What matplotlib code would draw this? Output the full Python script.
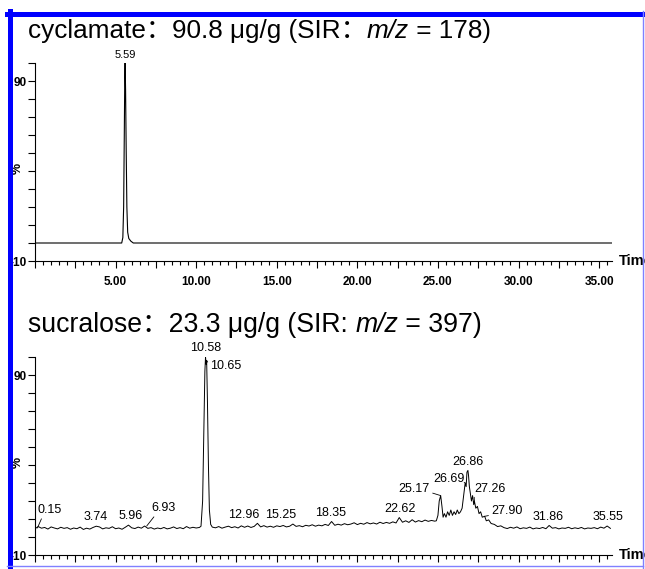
import numpy as np
import matplotlib
matplotlib.use("Agg")
import matplotlib.pyplot as plt
from matplotlib.ticker import MultipleLocator, FuncFormatter
from matplotlib.lines import Line2D
from matplotlib.patches import Rectangle

plt.rcParams['font.family'] = ['Liberation Sans', 'Noto Sans CJK SC', 'DejaVu Sans']

# cyclamate trace (time in min, relative intensity %)
cyc_time = [0.0, 5.38, 5.45, 5.50, 5.54, 5.57, 5.59, 5.62, 5.66, 5.70, 5.75, 5.82, 5.95, 6.10, 35.8]
cyc_int = [0.0, 0.0, 3.0, 20.0, 60.0, 92.0, 100.0, 85.0, 50.0, 20.0, 6.0, 2.5, 1.0, 0.0, 0.0]
cyc_peaks = [5.59]

# sucralose trace
suc_base1 = [4.6, 5.8, 4.9, 5.3, 4.4, 5.6, 5.0, 4.5, 5.4, 4.8,
             5.2, 4.3, 5.0, 4.6, 5.5, 4.2, 4.9, 4.4, 5.3, 6.0,
             5.6, 4.5, 5.1, 4.8, 5.7, 4.6, 5.0, 4.3, 5.4, 6.6,
             5.1, 4.7, 5.5, 4.9, 6.1, 4.8, 5.2, 4.4, 5.0, 4.6,
             5.3, 4.5, 4.9, 5.6, 4.7, 5.2, 4.6, 5.8, 4.9, 5.4,
             5.0, 5.3]
suc_peak1_t = [10.30, 10.40, 10.48, 10.54, 10.58, 10.62, 10.65, 10.70, 10.76, 10.82, 10.90, 11.0]
suc_peak1_i = [6.0, 20.0, 60.0, 92.0, 100.0, 96.0, 98.0, 75.0, 40.0, 15.0, 7.0, 5.5]
suc_base2 = [5.1, 5.8, 4.9, 5.5, 6.0, 5.2, 5.7, 5.0, 6.2, 5.4,
             6.1, 5.3, 5.9, 7.6, 5.6, 6.3, 5.5, 6.0, 5.4, 6.2,
             5.8, 6.4, 5.6, 6.0, 7.2, 5.9, 6.3, 5.7, 6.5, 6.1,
             6.8, 6.0, 6.6, 6.2, 7.0, 6.4, 8.6, 6.5, 7.1, 6.6,
             7.4, 6.8, 7.2, 7.9, 6.9, 7.6, 7.1, 8.0, 7.3, 7.8,
             7.2, 8.2, 7.5, 8.1, 7.6]
suc_base3 = [8.4, 7.8, 10.8, 8.2, 9.0, 8.1, 9.6, 8.3, 9.1, 8.5,
             9.4, 8.7, 9.2, 8.8]
suc_cluster_t = [24.9, 25.0, 25.08, 25.17, 25.25, 25.32, 25.4, 25.5, 25.6, 25.7,
                 25.8, 25.9, 26.0, 26.1, 26.2, 26.3, 26.4, 26.5, 26.58, 26.64,
                 26.69, 26.75, 26.80, 26.86, 26.90, 26.95, 27.0, 27.08, 27.15, 27.22,
                 27.26, 27.35, 27.45, 27.55, 27.65, 27.75, 27.9, 28.0, 28.15, 28.3,
                 28.5, 28.7, 28.9]
suc_cluster_i = [9.0, 12.0, 20.0, 23.0, 17.0, 11.0, 13.0, 11.0, 14.0, 12.0,
                 15.0, 12.0, 14.0, 12.5, 15.0, 13.0, 14.0, 16.0, 22.0, 27.0,
                 30.0, 28.0, 36.0, 37.0, 34.0, 28.0, 25.0, 20.0, 23.0, 18.0,
                 20.0, 16.0, 17.0, 13.0, 14.0, 11.0, 11.5, 9.0, 9.5, 7.5,
                 7.0, 5.8, 6.2]
suc_base4 = [5.2, 4.7, 5.4, 4.9, 5.6, 4.6, 5.1, 4.8, 5.5, 4.5,
             5.0, 4.7, 5.3, 4.6, 6.4, 4.9, 5.2, 4.5, 5.0, 4.8,
             5.4, 4.6, 5.1, 4.7, 5.3, 4.5, 5.0, 4.8, 5.2, 4.6,
             5.5, 4.9, 6.1, 4.8]
suc_peaks = [0.15, 3.74, 5.96, 6.93, 10.58, 10.65, 12.96, 15.25, 18.35, 22.62,
             25.17, 26.69, 26.86, 27.26, 27.90, 31.86, 35.55]
suc_peak_h = [5.0, 6.0, 6.6, 6.1, 100.0, 98.0, 7.6, 7.2, 8.6, 10.8,
              23.0, 30.0, 37.0, 20.0, 11.5, 6.4, 6.1]

suc_time = (list(np.arange(len(suc_base1)) * 0.2) + suc_peak1_t
            + list(11.2 + np.arange(len(suc_base2)) * 0.2)
            + list(22.2 + np.arange(len(suc_base3)) * 0.2)
            + suc_cluster_t + list(29.1 + np.arange(len(suc_base4)) * 0.2))
suc_int = suc_base1 + suc_peak1_i + suc_base2 + suc_base3 + suc_cluster_i + suc_base4

W, H = 645, 569
fig = plt.figure(figsize=(W / 100, H / 100), dpi=100)
clip = Rectangle((0, 0), 641 / W, 1, transform=fig.transFigure, visible=False)
fig.add_artist(clip)


def px_axes(left, top, right, bottom):
    return fig.add_axes([left / W, 1 - bottom / H, (right - left) / W, (bottom - top) / H])


def setup(ax):
    ax.set_xlim(0, 35.8)
    ax.set_ylim(-10, 100)
    for s in ['top', 'right']:
        ax.spines[s].set_visible(False)
    for s in ['left', 'bottom']:
        ax.spines[s].set_linewidth(0.8)
    ax.xaxis.set_major_locator(MultipleLocator(2.5))
    ax.xaxis.set_minor_locator(MultipleLocator(0.5))
    ax.xaxis.set_major_formatter(FuncFormatter(lambda v, p: f"{v:.2f}" if v > 0 and abs(v % 5) < 1e-6 else ""))
    ax.set_yticks([-10, 0, 10, 20, 30, 40, 50, 60, 70, 80, 90, 100])
    ax.set_yticklabels(["-10", "", "", "", "", "", "", "", "", "", "90", ""])
    ax.tick_params(axis='both', which='major', length=5, width=0.8, labelsize=8.5, pad=1)
    ax.tick_params(axis='x', which='minor', length=3, width=0.8)
    ax.tick_params(axis='x', which='major', pad=6)
    for lab in ax.get_xticklabels() + ax.get_yticklabels():
        lab.set_fontweight('bold')
    ax.text(-0.03, 0.47, "%", transform=ax.transAxes, rotation=90, fontsize=9,
            fontweight='bold', ha='center', va='center')
    t = ax.text(1.012, 0.0, "Time", transform=ax.transAxes, fontsize=10.5,
                fontweight='bold', ha='left', va='center')
    t.set_clip_path(clip)


ax1 = px_axes(35, 63, 612, 261)
setup(ax1)
ax1.plot(cyc_time, cyc_int, color='black', lw=0.8)
for t in cyc_peaks:
    ax1.annotate(f"{t:.2f}", xy=(t, 100), xytext=(0, 2), textcoords='offset points',
                 ha='center', va='bottom', fontsize=8)

ax2 = px_axes(35, 357, 612, 555)
setup(ax2)
ax2.plot(suc_time, suc_int, color='black', lw=0.7)

# labels with a leader line: offset (points), vertical alignment, leader start on the label
leaders = {0.15: (9, 8.6, 'bottom', (0.2, 0)),
           6.93: (12, 8.6, 'bottom', (0.2, 0)),
           10.65: (14, -4, 'center', (0, 0.5)),
           25.17: (-19, 5, 'center', (1, 0.2)),
           26.69: (-12, 3, 'center', (1, 0.2)),
           27.26: (11, 9, 'center', (0, 0.2)),
           27.90: (16, 3.5, 'center', (0, 0.2))}
for t, h in zip(suc_peaks, suc_peak_h):
    if t in leaders:
        dx, dy, va, rel = leaders[t]
        ax2.annotate(f"{t:.2f}", xy=(t, h), xytext=(dx, dy), textcoords='offset points',
                     ha='center', va=va, fontsize=9,
                     arrowprops=dict(arrowstyle='-', lw=0.6, color='black', shrinkA=0,
                                     shrinkB=0, relpos=rel))
    else:
        ax2.annotate(f"{t:.2f}", xy=(t, h), xytext=(0, 2), textcoords='offset points',
                     ha='center', va='bottom', fontsize=9)


def draw_title(y, size, pieces):
    prev = None
    for s, style in pieces:
        if prev is None:
            prev = fig.text(28 / W, 1 - y / H, s, fontsize=size, style=style, ha='left', va='bottom')
        else:
            prev = plt.annotate(s, xy=(1, 0), xycoords=prev, fontsize=size, style=style,
                                ha='left', va='bottom', annotation_clip=False)


draw_title(43, 18.8, [("cyclamate：90.8 μg/g (SIR：", 'normal'), ("m/z", 'italic'), (" = 178)", 'normal')])
draw_title(338, 19.2, [("sucralose：23.3 μg/g (SIR: ", 'normal'), ("m/z", 'italic'), (" = 397)", 'normal')])

# blue frame
fig.add_artist(Line2D([7 / W, 1], [1 - 13.5 / H] * 2, color='#0000ff', lw=3.6, transform=fig.transFigure))
fig.add_artist(Line2D([9.5 / W] * 2, [0, 1 - 11 / H], color='#0000ff', lw=3.6, transform=fig.transFigure))
fig.add_artist(Line2D([643 / W] * 2, [0, 1 - 11 / H], color='#8080ff', lw=1.0, transform=fig.transFigure))
fig.add_artist(Line2D([7 / W, 643 / W], [1 - 566 / H] * 2, color='#8080ff', lw=1.0, transform=fig.transFigure))

fig.savefig("out.png", dpi=100)
